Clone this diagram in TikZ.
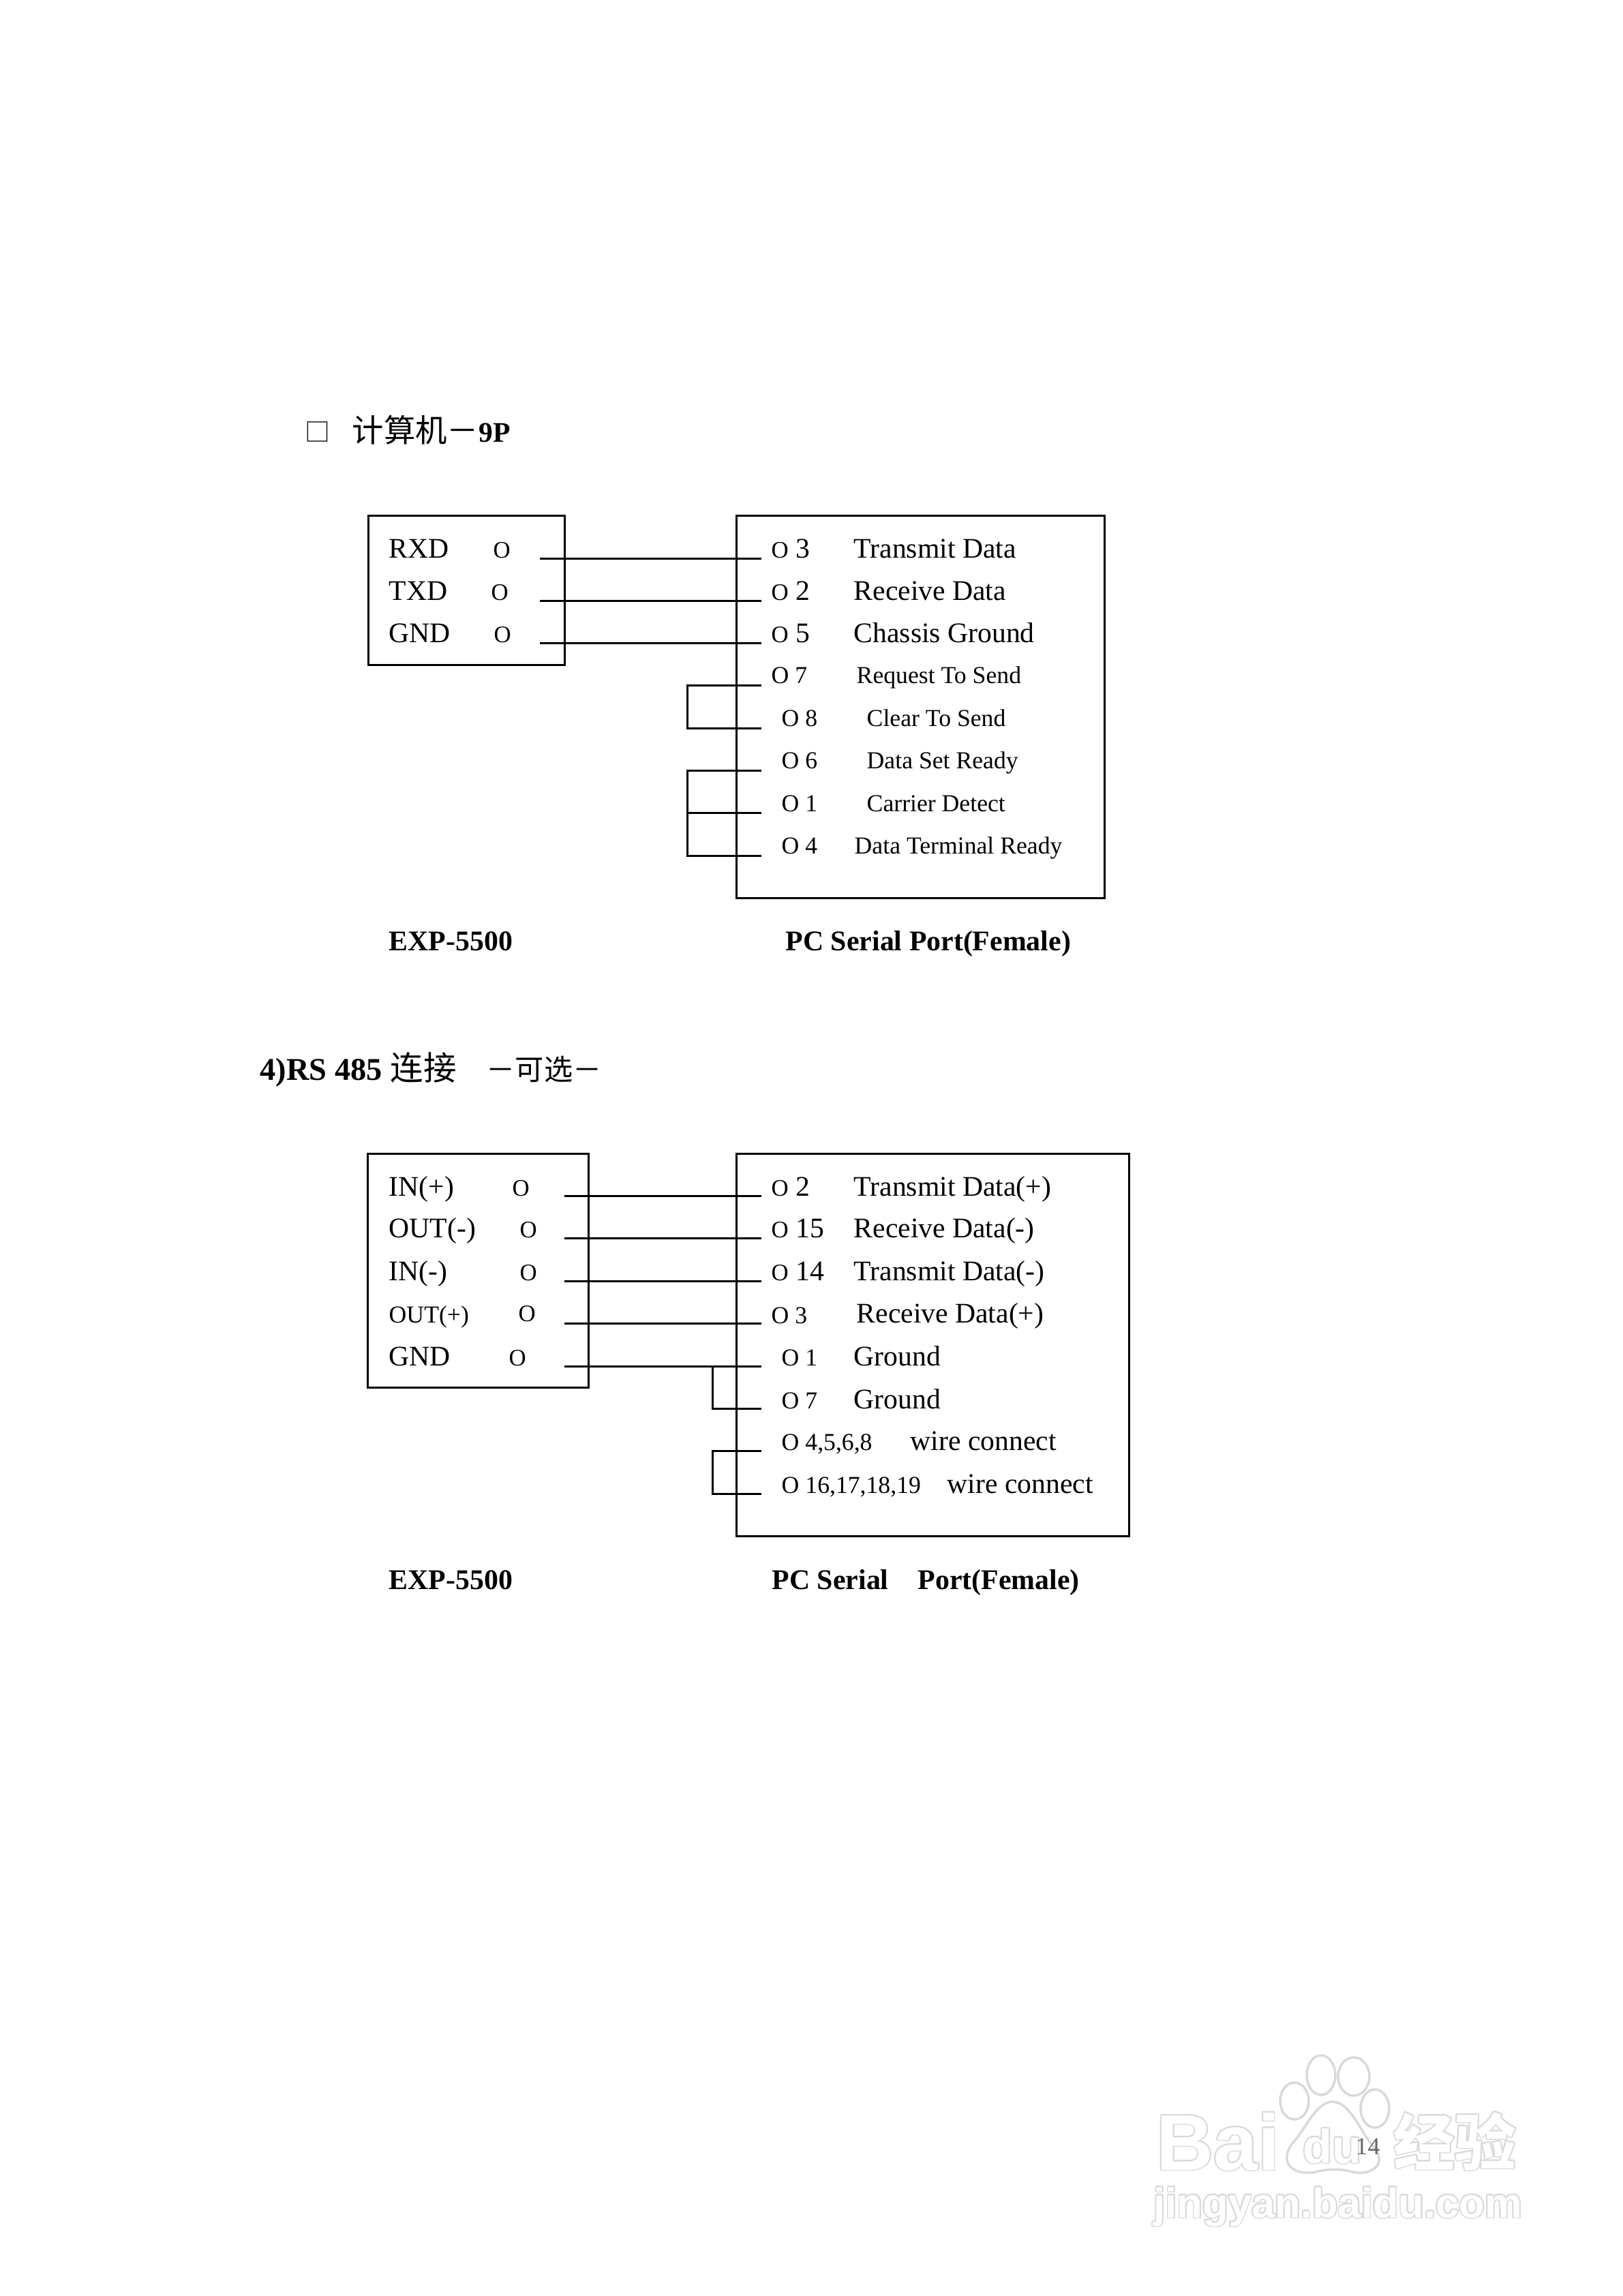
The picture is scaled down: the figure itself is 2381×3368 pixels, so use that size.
\documentclass[tikz,border=0pt]{standalone}
\usepackage{fontspec}
\usepackage[copies]{contour}
\setmainfont{Liberation Serif}
\newfontfamily\cjk{Noto Sans CJK SC}
\newfontfamily\wmfont{Liberation Sans}
\usetikzlibrary{shapes,positioning,calc}
\tikzstyle{txt} = [anchor=base west, inner sep=0pt, font=\fontsize{11.85}{14}\selectfont]
\tikzstyle{txtsmall} = [anchor=base west, inner sep=0pt, font=\fontsize{10.15}{12}\selectfont]
\tikzstyle{txtbold} = [anchor=base west, inner sep=0pt, font=\fontsize{11.9}{14}\selectfont\bfseries]
\tikzstyle{scatola} = [rectangle, draw=black, line width=0.85pt, inner sep=0pt]
\tikzstyle{wire} = [line width=0.85pt]
\tikzstyle{paw} = [draw=black!15, line width=1pt]
\tikzstyle{wmark} = [inner sep=0pt, text=white, anchor=base west]
\newcommand{\smallo}{{\fontsize{9.9}{12}\selectfont O}}
\contourlength{0.5pt}
\begin{document}
\begin{tikzpicture}[x=0.01cm,y=-0.01cm]
						\fill[white] (0,0) rectangle (2381,3368);
						\path[use as bounding box] (0,0) rectangle (2381,3368);
						% first connection
						\node (mark) at (447,647) [txt] {\cjk\fontsize{10.5}{12}\selectfont □};
						\node (title1) at (516,648) [txt] {{\cjk\fontsize{13.2}{16}\selectfont 计算机－}{\bfseries 9P}};
						\node (exp1) at (684.5,866) [scatola, minimum width=2.87cm, minimum height=2.18cm] {};
						\node (pc1) at (1350.5,1037) [scatola, minimum width=5.39cm, minimum height=5.60cm] {};
						\node (rxd) at (570,818) [txt] {RXD};
						\node (rxdo) at (723,818) [txt] {\smallo};
						\node (txd) at (570,880) [txt] {TXD};
						\node (txdo) at (720,880) [txt] {\smallo};
						\node (gnd) at (570,942) [txt] {GND};
						\node (gndo) at (724,942) [txt] {\smallo};
						\node (p3) at (1131,818) [txt] {\smallo\ 3};
						\node (p3t) at (1252,818) [txt] {Transmit Data};
						\node (p2) at (1131,880) [txt] {\smallo\ 2};
						\node (p2t) at (1252,880) [txt] {Receive Data};
						\node (p5) at (1131,942) [txt] {\smallo\ 5};
						\node (p5t) at (1252,942) [txt] {Chassis Ground};
						\node (p7) at (1131,1002) [txtsmall] {O 7};
						\node (p7t) at (1256,1002) [txtsmall] {Request To Send};
						\node (p8) at (1146,1065) [txtsmall] {O 8};
						\node (p8t) at (1271,1065) [txtsmall] {Clear To Send};
						\node (p6) at (1146,1127) [txtsmall] {O 6};
						\node (p6t) at (1271,1127) [txtsmall] {Data Set Ready};
						\node (p1) at (1146,1190) [txtsmall] {O 1};
						\node (p1t) at (1271,1190) [txtsmall] {Carrier Detect};
						\node (p4) at (1146,1252) [txtsmall] {O 4};
						\node (p4t) at (1253,1252) [txtsmall] {Data Terminal Ready};
						\node (exp1t) at (570,1394) [txtbold] {EXP-5500};
						\node (pc1t) at (1152,1394) [txtbold] {PC Serial Port(Female)};
						\coordinate (a1) at (792,819);
						\coordinate (b1) at (1117,819);
						\coordinate (a2) at (792,881);
						\coordinate (b2) at (1117,881);
						\coordinate (a3) at (792,943);
						\coordinate (b3) at (1117,943);
						\coordinate (b7) at (1117,1005);
						\coordinate (b8) at (1117,1068);
						\coordinate (b6) at (1117,1130);
						\coordinate (b10) at (1117,1192);
						\coordinate (b4) at (1117,1255);
						\draw[wire] (a1) -- (b1);
						\draw[wire] (a2) -- (b2);
						\draw[wire] (a3) -- (b3);
						\draw[wire] (b7) -- ++(-109,0) |- (b8);
						\draw[wire] (b6) -- ++(-109,0) |- (b4);
						\draw[wire] (b10) -- ++(-109,0);
						% second connection
						\node (title2) at (381,1584) [txtbold] {\fontsize{13.2}{16}\selectfont 4)RS 485 {\cjk\mdseries\fontsize{13.8}{16}\selectfont 连接}};
						\node (title2b) at (713,1584) [txt] {\cjk\fontsize{12}{14}\selectfont －可选－};
						\node (exp2) at (701.5,1864) [scatola, minimum width=3.23cm, minimum height=3.43cm] {};
						\node (pc2) at (1368.5,1973) [scatola, minimum width=5.75cm, minimum height=5.60cm] {};
						\node (inp) at (570,1754) [txt] {IN(+)};
						\node (inpo) at (751,1754) [txt] {\smallo};
						\node (outm) at (570,1815) [txt] {OUT(-)};
						\node (outmo) at (762,1815) [txt] {\smallo};
						\node (inm) at (570,1878) [txt] {IN(-)};
						\node (inmo) at (762,1878) [txt] {\smallo};
						\node (outp) at (570,1940) [txtsmall] {OUT(+)};
						\node (outpo) at (760,1938) [txt] {\smallo};
						\node (gnd2) at (570,2003) [txt] {GND};
						\node (gnd2o) at (746,2003) [txt] {\smallo};
						\node (q2) at (1131,1754) [txt] {\smallo\ 2};
						\node (q2t) at (1252,1754) [txt] {Transmit Data(+)};
						\node (q15) at (1131,1815) [txt] {\smallo\ 15};
						\node (q15t) at (1252,1815) [txt] {Receive Data(-)};
						\node (q14) at (1131,1878) [txt] {\smallo\ 14};
						\node (q14t) at (1252,1878) [txt] {Transmit Data(-)};
						\node (q3) at (1131,1941) [txtsmall] {O 3};
						\node (q3t) at (1256,1940) [txt] {Receive Data(+)};
						\node (q1) at (1146,2003) [txtsmall] {O 1};
						\node (q1t) at (1252,2003) [txt] {Ground};
						\node (q7) at (1146,2066) [txtsmall] {O 7};
						\node (q7t) at (1252,2066) [txt] {Ground};
						\node (q4) at (1146,2127) [txtsmall] {O 4,5,6,8};
						\node (q4t) at (1335,2127) [txt] {wire connect};
						\node (q16) at (1146,2190) [txtsmall] {O 16,17,18,19};
						\node (q16t) at (1389,2190) [txt] {wire connect};
						\node (exp2t) at (570,2331) [txtbold] {EXP-5500};
						\node (pc2t) at (1132,2331) [txtbold] {PC Serial};
						\node (pc2u) at (1346,2331) [txtbold] {Port(Female)};
						\coordinate (c1) at (828,1754);
						\coordinate (d1) at (1117,1754);
						\coordinate (c2) at (828,1816);
						\coordinate (d2) at (1117,1816);
						\coordinate (c3) at (828,1879);
						\coordinate (d3) at (1117,1879);
						\coordinate (c4) at (828,1941);
						\coordinate (d4) at (1117,1941);
						\coordinate (c5) at (828,2004);
						\coordinate (d5) at (1117,2004);
						\coordinate (j5) at (1045,2004);
						\coordinate (d7) at (1117,2066);
						\coordinate (d8) at (1117,2128);
						\coordinate (d16) at (1117,2191);
						\draw[wire] (c1) -- (d1);
						\draw[wire] (c2) -- (d2);
						\draw[wire] (c3) -- (d3);
						\draw[wire] (c4) -- (d4);
						\draw[wire] (c5) -- (d5);
						\draw[wire] (j5) |- (d7);
						\draw[wire] (d8) -- ++(-72,0) |- (d16);
						% watermark and page number
						\node (wm1) at (1696,3183) [wmark] {\contour{black!15}{\wmfont\bfseries\fontsize{33}{36}\selectfont Bai}};
						\node (wm2) at (1911,3173) [wmark] {\contour{black!15}{\wmfont\bfseries\fontsize{20}{24}\selectfont du}};
						\node (wm3) at (2044,3176) [wmark] {\contour{black!15}{\cjk\bfseries\fontsize{25.5}{30}\selectfont 经验}};
						\node (wm4) at (1692,3253) [wmark] {\contour{black!15}{\wmfont\bfseries\fontsize{17.5}{22}\selectfont jingyan.baidu.com}};
						\draw[paw] (1899,3082) ellipse (21 and 27);
						\draw[paw] (1938,3044) ellipse (21 and 29);
						\draw[paw] (1986,3046) ellipse (23 and 28);
						\draw[paw] (2017,3093) ellipse (21 and 28);
						\draw[paw] (1955,3083) .. controls (1980,3083) and (1995,3125) .. (2012,3145) .. controls (2040,3175) and (2010,3192) .. (1985,3186) .. controls (1965,3181) and (1950,3181) .. (1930,3186) .. controls (1900,3192) and (1875,3175) .. (1895,3145) .. controls (1915,3125) and (1930,3083) .. (1955,3083);
						\node (page) at (1988,3160) [txtsmall, text=black!60] {14};
					\end{tikzpicture}
\end{document}
